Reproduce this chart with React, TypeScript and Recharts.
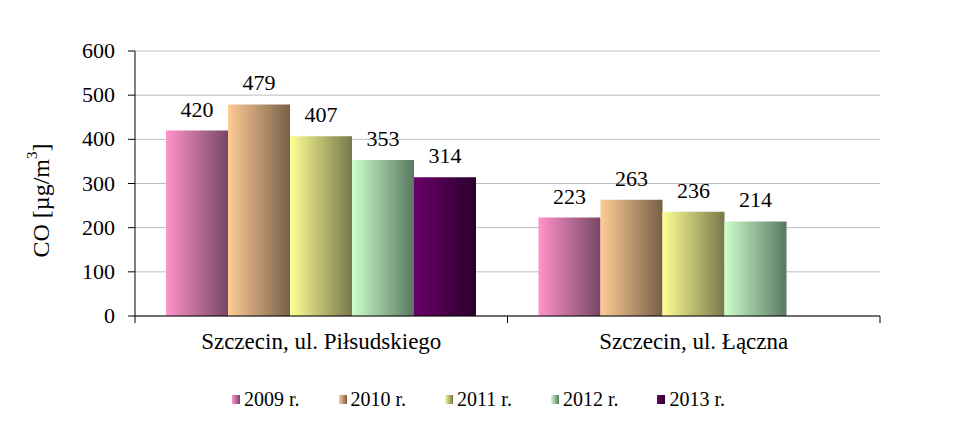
import React from "react";
import { BarChart, Bar, XAxis, YAxis, CartesianGrid, LabelList, Legend } from "recharts";

const categories = ["Szczecin, ul. Piłsudskiego", "Szczecin, ul. Łączna"];
const years = ["2009 r.", "2010 r.", "2011 r.", "2012 r.", "2013 r."];
const keys = ["y2009", "y2010", "y2011", "y2012", "y2013"];
const v2009 = [420, 223];
const v2010 = [479, 263];
const v2011 = [407, 236];
const v2012 = [353, 214];
const v2013: (number | null)[] = [314, null];
const yTicks = [0, 100, 200, 300, 400, 500, 600];

// left -> right shades of each bar
const shades = [
  ["#FF93CB", "#774764"],
  ["#FFCB96", "#776048"],
  ["#FFFF96", "#77784A"],
  ["#CCFFCC", "#5A7860"],
  ["#6A006A", "#2A002A"],
];

const series = [v2009, v2010, v2011, v2012, v2013];
const data = categories.map((name, i) => {
  const row: Record<string, string | number | null> = { name };
  keys.forEach((k, s) => (row[k] = series[s][i]));
  return row;
});

const FONT = '"Liberation Serif", "Times New Roman", serif';

const CategoryTick = (props: any) => {
  const { x, y, payload, width } = props;
  const half = payload.offset || width / categories.length / 2;
  return (
    <g>
      <line x1={x - half} x2={x - half} y1={y} y2={y + 7} stroke="#000" />
      <line x1={x + half} x2={x + half} y1={y} y2={y + 7} stroke="#000" />
      <text x={x} y={y + 33} textAnchor="middle" fontFamily={FONT} fontSize={23} fill="#000">
        {payload.value}
      </text>
    </g>
  );
};

const ValueTick = (props: any) => {
  const { x, y, payload } = props;
  return (
    <text x={x} y={y} dy={7} textAnchor="end" fontFamily={FONT} fontSize={22} fill="#000">
      {payload.value}
    </text>
  );
};

const BarValue = (props: any) => {
  const { x, y, width, value } = props;
  if (value == null) return null;
  return (
    <text x={x + width / 2} y={y - 14} textAnchor="middle" fontFamily={FONT} fontSize={22} fill="#000">
      {value}
    </text>
  );
};

const YLabel = (props: any) => {
  const { viewBox } = props;
  const cx = viewBox.x + 41;
  const cy = viewBox.y + viewBox.height / 2 + 17;
  return (
    <text
      x={cx}
      y={cy}
      transform={`rotate(-90 ${cx} ${cy})`}
      textAnchor="middle"
      dominantBaseline="central"
      fontFamily={FONT}
      fontSize={24}
      fill="#000"
    >
      CO [µg/m
      <tspan dy={-9} fontSize={15}>3</tspan>
      <tspan dy={9}>]</tspan>
    </text>
  );
};

const LegendContent = () => (
  <div
    style={{
      display: "flex",
      justifyContent: "center",
      gap: 39,
      paddingRight: 10,
      fontFamily: FONT,
      fontSize: 20,
    }}
  >
    {years.map((y, i) => (
      <div key={y} style={{ display: "flex", alignItems: "center" }}>
        <span
          style={{
            display: "inline-block",
            width: 8,
            height: 9,
            marginRight: 4,
            background: `linear-gradient(to right, ${shades[i][0]}, ${shades[i][1]})`,
          }}
        />
        <span>{y}</span>
      </div>
    ))}
  </div>
);

export default function App() {
  return (
    <div style={{ position: "absolute", left: 0, top: 0, background: "#fff", fontFamily: FONT }}>
      <BarChart
        width={967}
        height={430}
        data={data}
        margin={{ top: 51, right: 87, left: 0, bottom: 41 }}
        barCategoryGap={31}
        barGap={0}
      >
        <defs>
          {shades.map((s, i) => (
            <linearGradient key={i} id={`g${i}`} x1="0" y1="0" x2="1" y2="0">
              <stop offset="0%" stopColor={s[0]} />
              <stop offset="100%" stopColor={s[1]} />
            </linearGradient>
          ))}
        </defs>
        <CartesianGrid vertical={false} stroke="#BDBDBD" />
        <XAxis
          dataKey="name"
          axisLine={{ stroke: "#000" }}
          tickLine={false}
          tickSize={0}
          tickMargin={0}
          height={50}
          tick={<CategoryTick />}
          interval={0}
        />
        <YAxis
          domain={[0, 600]}
          ticks={yTicks}
          width={135}
          axisLine={{ stroke: "#000" }}
          tickLine={{ stroke: "#000" }}
          tickSize={7}
          tickMargin={13}
          tick={<ValueTick />}
          label={<YLabel />}
        />
        <YAxis
          yAxisId="frame"
          orientation="right"
          domain={[0, 600]}
          width={0}
          tick={false}
          tickLine={false}
          axisLine={{ stroke: "#8C8C8C" }}
        />
        <Legend
          content={<LegendContent />}
          verticalAlign="bottom"
          wrapperStyle={{ bottom: 19, left: 0, width: 967 }}
        />
        {keys.map((k, i) => (
          <Bar key={k} dataKey={k} name={years[i]} fill={`url(#g${i})`} isAnimationActive={false}>
            <LabelList dataKey={k} content={<BarValue />} />
          </Bar>
        ))}
      </BarChart>
    </div>
  );
}
